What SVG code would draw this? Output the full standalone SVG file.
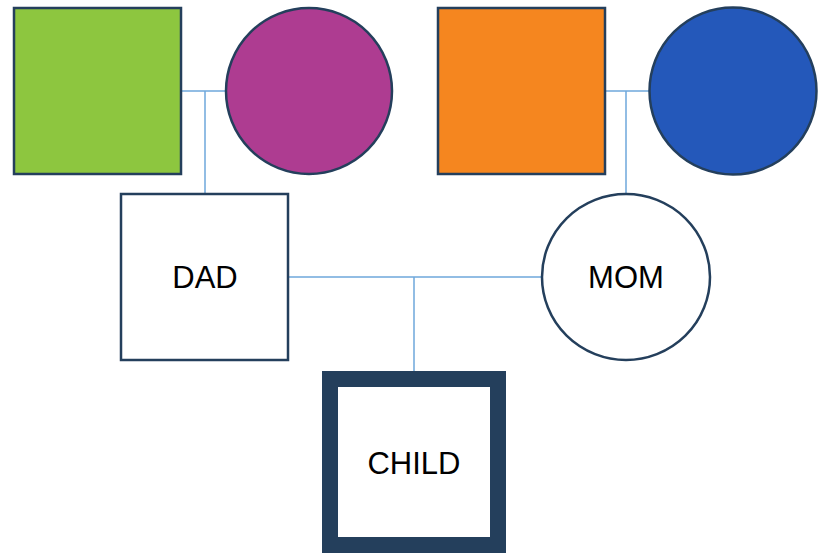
<svg xmlns="http://www.w3.org/2000/svg" width="820" height="554" viewBox="0 0 820 554">
  <style>
    .node { stroke: #243F5C; stroke-width: 2.5; }
    .link { stroke: #6FA8DC; stroke-width: 1.5; fill: none; }
    .label { font-family: "Liberation Sans", Arial, sans-serif; font-size: 31px; fill: #000; text-anchor: middle; }
  </style>
  <rect width="820" height="554" fill="#fff"/>
  <g id="connectors">
    <path class="link" d="M182 91 H225 M205 91 V193"/>
    <path class="link" d="M605 91 H649 M626 91 V193"/>
    <path class="link" d="M289 277 H542 M414 277 V372"/>
  </g>
  <g id="grandfather-paternal">
    <rect class="node" x="14" y="8" width="167" height="166" fill="#8DC63F"/>
  </g>
  <g id="grandmother-paternal">
    <circle class="node" cx="309" cy="91" r="83" fill="#AE3C91"/>
  </g>
  <g id="grandfather-maternal">
    <rect class="node" x="438" y="8" width="167" height="166" fill="#F5861F"/>
  </g>
  <g id="grandmother-maternal">
    <circle class="node" cx="733" cy="91" r="83.5" fill="#2458BA"/>
  </g>
  <g id="dad">
    <rect class="node" x="121" y="194" width="167" height="166" fill="#fff"/>
    <text class="label" x="205" y="288">DAD</text>
  </g>
  <g id="mom">
    <ellipse class="node" cx="626" cy="277" rx="84" ry="83" fill="#fff"/>
    <text class="label" x="626" y="288">MOM</text>
  </g>
  <g id="child">
    <rect x="330" y="379" width="168" height="166" fill="#fff" stroke="#243F5C" stroke-width="16"/>
    <text class="label" x="414" y="474">CHILD</text>
  </g>
</svg>
